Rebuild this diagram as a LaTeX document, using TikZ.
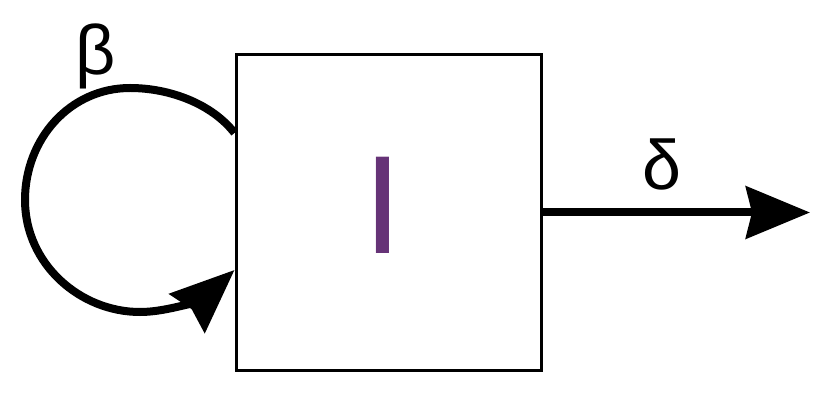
\documentclass[tikz,border=0pt]{standalone}
\usepackage{fontspec}
\setmainfont{Liberation Sans}
\usetikzlibrary{arrows.meta}
\definecolor{lettercol}{HTML}{663377}
\tikzset{
  flow/.style={line width=8pt,-{Stealth[length=64pt,width=52pt,inset=6pt]}},
  greek/.style={inner sep=0pt,font=\fontsize{70}{70}\selectfont}
}

\begin{document}
\begin{tikzpicture}[x=1pt,y=1pt]
\useasboundingbox (0,0) rectangle (834,404);
\node[draw,line width=3pt,minimum width=305pt,minimum height=315pt,inner sep=0pt] (box) at (388.5,191.5) {};
\node[inner sep=0pt,text=lettercol,font=\fontsize{140}{140}\selectfont] (letter) at (383,199) {I};
\coordinate (loopin) at ([yshift=79.5pt]box.west);
\coordinate (loopout) at ([yshift=-57.5pt]box.west);
\coordinate (outend) at (810,191.5);
\draw[flow] (loopin) .. controls (212,300) and (170,316) .. (130,316)
  .. controls (70,316) and (25,265) .. (25,204)
  .. controls (25,140) and (80,92) .. (140,92)
  .. controls (172,92) and (206,108) .. (loopout);
\draw[flow] (box.east) -- (outend);
\node[greek] (beta) at (96,348) {β};
\node[greek] (delta) at (662,240) {δ};
\end{tikzpicture}
\end{document}
